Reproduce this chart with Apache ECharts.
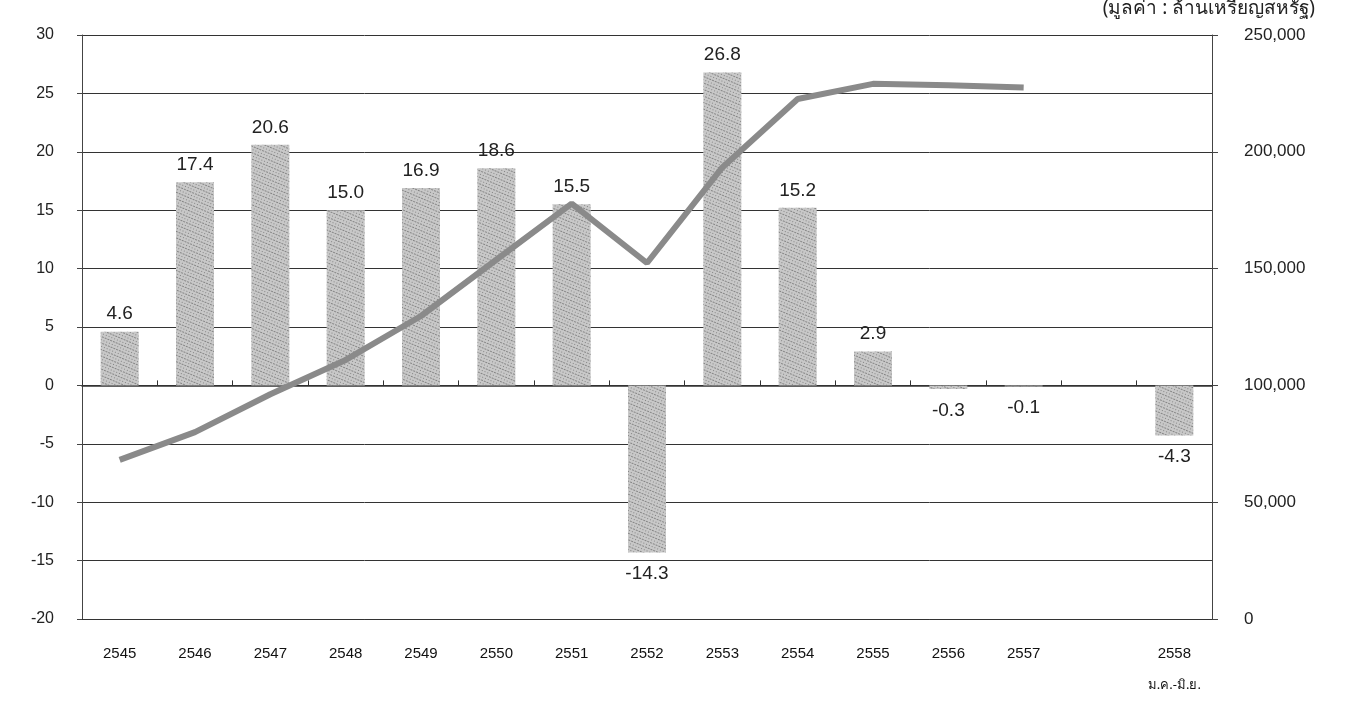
<!DOCTYPE html>
<html>
<head>
<meta charset="utf-8">
<script src="https://cdn.jsdelivr.net/npm/echarts@6/dist/echarts.min.js"></script>
<style>
  html, body { margin: 0; padding: 0; background: #fff; }
  #chart { width: 1348px; height: 707px; }
</style>
</head>
<body>
<div id="chart"></div>
<script>
// ปี พ.ศ. (ช่องว่างหนึ่งช่องก่อนปี 2558)
const years = ['2545', '2546', '2547', '2548', '2549', '2550', '2551', '2552', '2553', '2554', '2555', '2556', '2557', '', '2558']
// อัตราการขยายตัว (%)
const growth = [4.6, 17.4, 20.6, 15.0, 16.9, 18.6, 15.5, -14.3, 26.8, 15.2, 2.9, -0.3, -0.1, null, -4.3]
// มูลค่า (ล้านเหรียญสหรัฐ)
const value = [68100, 80000, 96200, 110900, 129700, 153800, 177800, 152400, 193300, 222600, 229100, 228500, 227500, null, null]
const leftTicks = { min: -20, max: 30, interval: 5 }
const rightTicks = { min: 0, max: 250000, interval: 50000 }

const myChart = echarts.init(document.getElementById('chart'))
const font = 'Liberation Sans, Arial, sans-serif'

let option = {
  animation: false,
  aria: { enabled: true, decal: { show: true } },
  textStyle: { fontFamily: font, color: '#111' },
  title: {
    text: '(มูลค่า : ล้านเหรียญสหรัฐ)',
    right: 28,
    top: -6,
    textStyle: { fontSize: 19, fontWeight: 'normal', color: '#222', fontFamily: 'Noto Sans, sans-serif' }
  },
  grid: { left: 82, right: 136, top: 35, bottom: 88, containLabel: false, outerBoundsMode: 'none' },
  xAxis: [
    {
      type: 'category',
      data: years,
      axisLine: { onZero: false, lineStyle: { color: '#333' } },
      axisTick: { show: false },
      axisLabel: {
        interval: 0,
        margin: 20,
        color: '#222',
        formatter: (v) => (v === '2558' ? '{y|2558}\n{s|ม.ค.-มิ.ย.}' : '{y|' + v + '}'),
        rich: {
          y: { fontSize: 15, lineHeight: 30, align: 'center' },
          s: { fontSize: 13, lineHeight: 32, fontFamily: 'Noto Sans, sans-serif', align: 'center' }
        }
      }
    },
    {
      type: 'category',
      data: years,
      position: 'top',
      axisLine: { onZero: true, onZeroAxisIndex: 0, lineStyle: { color: '#333', width: 1.5 } },
      axisTick: { show: true, length: 5, lineStyle: { color: '#333' } },
      axisLabel: { show: false }
    }
  ],
  yAxis: [
    {
      type: 'value',
      ...leftTicks,
      axisLine: { show: true, lineStyle: { color: '#444' } },
      axisTick: { show: true, length: 5 },
      axisLabel: { fontSize: 16, color: '#222', margin: 28 },
      splitLine: { lineStyle: { color: '#333', width: 1 } }
    },
    {
      type: 'value',
      ...rightTicks,
      position: 'right',
      axisLine: { show: true, lineStyle: { color: '#444' } },
      axisTick: { show: true, length: 6 },
      axisLabel: {
        fontSize: 17,
        color: '#222',
        margin: 32,
        formatter: (v) => v.toLocaleString('en-US')
      },
      splitLine: { show: false }
    }
  ],
  series: [
    {
      name: 'อัตราการขยายตัว',
      type: 'bar',
      xAxisIndex: 0,
      yAxisIndex: 0,
      barWidth: 38,
      itemStyle: {
        color: '#c8c8c8',
        decal: {
          symbol: 'rect',
          symbolSize: 0.8,
          color: 'rgba(60,60,60,0.6)',
          dashArrayX: [[1, 2], [2, 1]],
          dashArrayY: [1, 2],
          rotation: 0.4
        }
      },
      data: growth.map((v) => ({
        value: v,
        label: {
          show: v !== null,
          position: v < 0 ? 'bottom' : 'top',
          distance: v < 0 ? 12 : 8,
          fontSize: 19,
          color: '#222',
          formatter: (p) => p.value.toFixed(1)
        }
      }))
    },
    {
      name: 'มูลค่า',
      type: 'line',
      xAxisIndex: 0,
      yAxisIndex: 1,
      showSymbol: false,
      symbol: 'none',
      lineStyle: { color: '#8a8a8a', width: 6 },
      z: 5,
      data: value
    }
  ]
}
option && myChart.setOption(option)
</script>
</body>
</html>
